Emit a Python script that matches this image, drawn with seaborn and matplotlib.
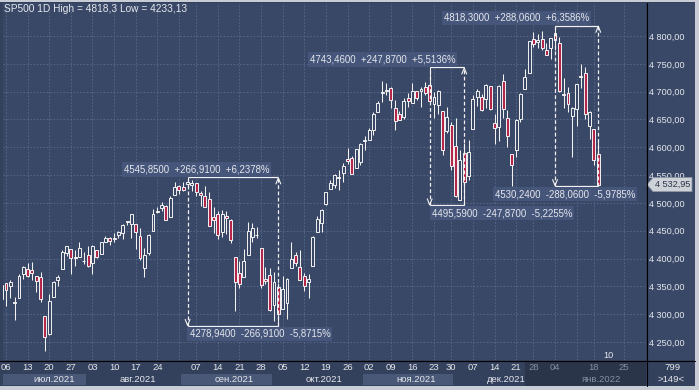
import numpy as np
import pandas as pd
import matplotlib
matplotlib.use("Agg")
import matplotlib.pyplot as plt
import seaborn as sns
from matplotlib.lines import Line2D
from matplotlib.patches import Polygon, Rectangle
from matplotlib.transforms import IdentityTransform

W, H = 699, 390

# trading days (NYSE holidays skipped)
holidays = ["2021-07-05", "2021-09-06", "2021-11-25", "2021-12-24", "2022-01-17"]
dates = pd.bdate_range("2021-07-02", "2022-01-19", freq="C", holidays=holidays)

opens = [
    4326.60, 4356.46, 4351.01, 4321.07, 4329.38, 4372.41, 4381.07, 4380.11, 4369.02, 4367.43,
    4296.40, 4265.11, 4331.13, 4361.27, 4381.20, 4409.58, 4416.38, 4402.95, 4403.59, 4395.12,
    4406.86, 4392.74, 4415.95, 4408.86, 4429.07, 4437.77, 4435.79, 4442.18, 4446.08, 4464.84,
    4461.65, 4462.12, 4440.94, 4382.44, 4410.56, 4450.29, 4484.40, 4490.45, 4493.75, 4474.10,
    4513.76, 4529.75, 4528.80, 4534.48, 4532.42, 4535.38, 4518.09, 4513.02, 4506.92, 4474.81,
    4479.33, 4447.49, 4477.09, 4469.74, 4402.95, 4374.45, 4367.43, 4406.75, 4438.04, 4442.12,
    4419.54, 4362.41, 4370.67, 4317.16, 4348.84, 4309.87, 4319.57, 4383.73, 4406.51, 4385.44,
    4368.31, 4358.01, 4386.75, 4447.69, 4463.72, 4497.34, 4524.42, 4532.24, 4546.12, 4553.69,
    4578.69, 4580.22, 4562.84, 4572.87, 4610.62, 4613.34, 4630.65, 4662.93, 4699.26, 4701.48,
    4707.25, 4670.26, 4659.39, 4655.24, 4689.30, 4679.42, 4701.50, 4700.72, 4708.44, 4712.00,
    4678.48, 4675.78, 4664.63, 4628.75, 4640.25, 4602.82, 4504.73, 4589.49, 4548.37, 4631.97,
    4690.86, 4691.00, 4687.64, 4710.30, 4642.99, 4636.46, 4719.13, 4652.50, 4587.90, 4594.96,
    4650.36, 4703.96, 4733.99, 4795.49, 4788.64, 4794.23, 4775.21, 4778.14, 4804.51, 4787.99,
    4693.39, 4697.66, 4655.34, 4669.14, 4728.59, 4733.56, 4637.99, 4632.24, 4588.03,
]
highs = [
    4355.43, 4356.46, 4361.88, 4330.88, 4371.60, 4386.68, 4392.37, 4393.68, 4369.02, 4375.09,
    4296.40, 4336.84, 4359.70, 4369.87, 4415.18, 4422.73, 4416.38, 4415.47, 4429.97, 4412.25,
    4422.18, 4423.79, 4416.17, 4429.76, 4440.82, 4439.39, 4445.21, 4449.44, 4461.77, 4468.37,
    4480.26, 4462.12, 4454.32, 4418.61, 4444.35, 4489.88, 4492.81, 4501.71, 4495.90, 4513.33,
    4537.36, 4531.39, 4537.11, 4545.85, 4541.45, 4535.38, 4521.79, 4529.90, 4520.47, 4492.99,
    4485.68, 4486.87, 4485.87, 4471.52, 4402.95, 4394.87, 4416.75, 4465.40, 4463.12, 4457.30,
    4419.54, 4385.57, 4382.55, 4375.19, 4355.51, 4369.23, 4365.57, 4429.97, 4412.02, 4415.88,
    4374.89, 4372.87, 4439.73, 4475.82, 4488.75, 4520.40, 4540.87, 4551.44, 4559.67, 4572.62,
    4598.53, 4584.57, 4597.55, 4608.08, 4620.34, 4635.15, 4663.46, 4683.00, 4718.50, 4714.92,
    4708.53, 4684.85, 4664.55, 4688.47, 4697.42, 4714.95, 4701.50, 4708.80, 4717.75, 4743.46,
    4699.39, 4702.87, 4664.63, 4672.95, 4646.02, 4652.94, 4595.46, 4608.03, 4612.60, 4694.04,
    4705.06, 4695.26, 4713.57, 4710.30, 4660.47, 4712.60, 4731.99, 4666.70, 4587.90, 4651.14,
    4697.67, 4740.74, 4791.49, 4807.02, 4804.06, 4808.93, 4786.83, 4796.64, 4818.30, 4797.70,
    4725.01, 4707.95, 4673.02, 4714.13, 4748.83, 4744.13, 4665.13, 4632.24, 4611.55,
]
lows = [
    4326.60, 4314.37, 4329.79, 4289.37, 4329.38, 4364.03, 4366.92, 4362.36, 4340.70, 4322.53,
    4233.13, 4262.05, 4331.13, 4350.06, 4381.20, 4405.45, 4372.51, 4387.01, 4403.59, 4389.65,
    4384.81, 4373.00, 4400.23, 4408.86, 4429.07, 4424.74, 4430.03, 4436.42, 4435.96, 4460.82,
    4437.66, 4417.83, 4397.59, 4367.73, 4406.80, 4450.29, 4482.28, 4485.66, 4468.99, 4474.10,
    4513.76, 4515.80, 4522.02, 4524.66, 4521.30, 4513.00, 4493.95, 4492.07, 4457.66, 4445.70,
    4435.46, 4438.37, 4443.80, 4427.76, 4305.91, 4347.96, 4367.43, 4406.75, 4430.27, 4436.19,
    4346.33, 4355.08, 4306.24, 4288.52, 4278.94, 4309.87, 4290.49, 4383.73, 4386.22, 4360.59,
    4342.09, 4329.92, 4386.75, 4447.69, 4447.47, 4496.41, 4524.40, 4526.89, 4524.00, 4537.36,
    4569.17, 4551.66, 4562.84, 4567.59, 4595.06, 4613.34, 4621.19, 4662.59, 4681.32, 4694.39,
    4670.87, 4630.86, 4648.31, 4650.77, 4672.86, 4679.42, 4684.41, 4672.78, 4694.22, 4682.17,
    4652.66, 4659.89, 4585.43, 4625.26, 4560.00, 4510.27, 4504.73, 4495.59, 4540.51, 4631.97,
    4674.52, 4665.98, 4670.24, 4667.60, 4606.52, 4611.22, 4651.89, 4600.22, 4531.10, 4583.16,
    4645.53, 4703.96, 4733.99, 4780.04, 4778.08, 4775.33, 4765.75, 4758.17, 4774.27, 4699.44,
    4671.26, 4662.74, 4582.24, 4638.27, 4706.71, 4650.29, 4614.75, 4568.70, 4530.24,
]
closes = [
    4352.34, 4343.54, 4358.13, 4320.82, 4369.55, 4384.63, 4369.21, 4374.30, 4360.03, 4327.16,
    4258.49, 4323.06, 4358.69, 4367.48, 4411.79, 4422.30, 4401.46, 4400.64, 4419.15, 4395.26,
    4387.16, 4423.15, 4402.66, 4429.10, 4436.52, 4432.35, 4436.75, 4447.70, 4460.83, 4468.00,
    4479.71, 4448.08, 4400.27, 4405.80, 4441.67, 4479.53, 4486.23, 4496.19, 4470.00, 4509.37,
    4528.79, 4522.68, 4524.09, 4536.95, 4535.43, 4520.03, 4514.07, 4493.28, 4458.58, 4468.73,
    4443.05, 4480.70, 4473.75, 4432.99, 4357.73, 4354.19, 4395.64, 4448.98, 4455.48, 4443.11,
    4352.63, 4359.46, 4307.54, 4357.04, 4300.46, 4345.72, 4363.55, 4399.76, 4391.34, 4361.19,
    4350.65, 4363.80, 4438.26, 4471.37, 4486.46, 4519.63, 4536.19, 4549.78, 4544.90, 4566.48,
    4574.79, 4551.68, 4596.42, 4605.38, 4613.67, 4630.65, 4660.57, 4680.06, 4697.53, 4701.70,
    4685.25, 4646.71, 4649.27, 4682.85, 4682.80, 4700.90, 4688.67, 4704.54, 4697.96, 4682.94,
    4690.70, 4701.46, 4594.62, 4655.27, 4567.00, 4513.04, 4577.10, 4538.43, 4591.67, 4686.75,
    4701.21, 4667.45, 4712.02, 4668.97, 4634.09, 4709.85, 4668.67, 4620.64, 4568.02, 4649.23,
    4696.56, 4725.79, 4791.19, 4786.35, 4793.06, 4778.73, 4766.18, 4796.56, 4793.54, 4700.58,
    4696.05, 4677.03, 4670.29, 4713.07, 4726.35, 4659.03, 4662.85, 4577.11, 4532.95,
]

# measured ranges (start, end)
ranges = [("2021-09-02", "2021-10-04"), ("2021-11-22", "2021-12-03"), ("2022-01-04", "2022-01-19")]

day_ticks = ["2021-07-06", "2021-07-13", "2021-07-20", "2021-07-27", "2021-08-03", "2021-08-10",
             "2021-08-17", "2021-08-24", "2021-09-07", "2021-09-14", "2021-09-21", "2021-09-28",
             "2021-10-05", "2021-10-12", "2021-10-19", "2021-10-26", "2021-11-02", "2021-11-09",
             "2021-11-16", "2021-11-23", "2021-11-30", "2021-12-07", "2021-12-14", "2021-12-21",
             "2021-12-28", "2022-01-04", "2022-01-18", "2022-01-25"]
month_labels = ["июл.2021", "авг.2021", "сен.2021", "окт.2021", "ноя.2021", "дек.2021", "янв.2022"]
price_ticks = [4250, 4300, 4350, 4400, 4450, 4500, 4550, 4600, 4650, 4700, 4750, 4800]
shade_from = "2021-12-23"   # start of the greyed part of the date strip

BG = "#3a4867"
PANEL = "#34415d"
DARK = "#2b3549"
GRID = "#5a6a8c"
RED = "#b4274a"
WHITE = "#f2f2f2"
TXT = "#e4e7ec"
DIM = "#858ea2"
LBL_BG = "#46557a"

# pixel calibration of the original screen
X0, DX = 1.68, 4.323
Y36, PPY = 4800, 0.5564


def pos(d):
    d = pd.Timestamp(d)
    if d <= dates[-1]:
        return int(dates.get_loc(d))
    return len(dates) - 1 + (d - dates[-1]).days


def fmt_price(v):
    return f"{v:,.2f}".replace(",", " ").replace(".", ",")


sns.set_theme(style="dark")
plt.rcParams["font.family"] = ["Liberation Sans", "DejaVu Sans"]

fig = plt.figure(figsize=(W / 100, H / 100), dpi=100, facecolor="#c8ccd4")


def px_axes(x0, y0, x1, y1):
    a = fig.add_axes([x0 / W, 1 - y1 / H, (x1 - x0) / W, (y1 - y0) / H])
    a.set_xticks([])
    a.set_yticks([])
    for s in a.spines.values():
        s.set_visible(False)
    return a


frame = px_axes(0, 2, 695, 386)
frame.set_facecolor(PANEL)
right = px_axes(647, 3, 695, 360)
right.set_facecolor(BG)

ax = px_axes(2.5, 3, 646, 360)
ax.set_facecolor(BG)
ax.set_xlim((2.5 - X0) / DX, (646 - X0) / DX)
ax.set_ylim(Y36 - (360 - 36) / PPY, Y36 + (36 - 3) / PPY)

idx = np.arange(len(dates))
o, h, l, c = map(np.asarray, (opens, highs, lows, closes))
up = c >= o

# grid
ax.set_yticks(price_ticks)
ax.set_yticklabels([fmt_price(v) for v in price_ticks])
ax.yaxis.tick_right()
ax.tick_params(axis="y", length=0, pad=2.5, labelsize=6.6, labelcolor=TXT)
ax.grid(True, axis="y", color=GRID, ls=(0, (2, 2)), lw=0.6)
week_pos = [pos(d) for d in pd.date_range("2021-07-06", "2022-01-25", freq="7D")]
ax.vlines(week_pos, *ax.get_ylim(), color=GRID, ls=(0, (2, 2)), lw=0.6, zorder=0.5)

# candles
ax.vlines(idx, l, h, color=WHITE, lw=0.75, zorder=2)
body = np.maximum(np.abs(c - o), 0.9)
ax.bar(idx, body, bottom=np.minimum(o, c), width=0.68,
       color=np.where(up, BG, RED), edgecolor=WHITE, linewidth=0.7, zorder=3)


def chevron(x, y, down):
    X, Y = ax.transData.transform((x, y))
    s = 1 if down else -1
    ax.add_line(Line2D([X - 2.4, X, X + 2.4], [Y + s * 6.5, Y + s * 0.5, Y + s * 6.5],
                       transform=IdentityTransform(), color=WHITE, lw=0.8, zorder=6))


label_kw = dict(textcoords="offset pixels", fontsize=6.9, color=TXT, va="center", zorder=7,
                bbox=dict(boxstyle="square,pad=0.22", fc=LBL_BG, ec="none"))
for k, (d0, d1) in enumerate(ranges):
    i0, i1 = pos(d0), pos(d1)
    hi = h[i0:i1 + 1].max()
    lo = l[i0:i1 + 1].min()
    diff = hi - lo
    ax.hlines([hi, lo], i0, i1, color=WHITE, lw=0.9, zorder=6)
    ax.vlines([i0, i1], lo, hi, color=WHITE, lw=0.9, ls=(0, (3, 2)), zorder=6)
    chevron(i0, lo, True)
    chevron(i1, hi, False)
    top = f"{hi:.4f}  +{diff:.4f}  +{diff / lo * 100:.4f}%".replace(".", ",")
    bot = f"{lo:.4f}  -{diff:.4f}  -{diff / hi * 100:.4f}%".replace(".", ",")
    ax.annotate(top, xy=(i1, hi), xytext=(-9, 8), ha="right", **label_kw)
    if k == 2:
        ax.annotate(bot, xy=(i1, lo), xytext=(37, -8), ha="right", **label_kw)
    else:
        ax.annotate(bot, xy=(i0, lo), xytext=(2, -8), ha="left", **label_kw)

fig.text(4 / W, 1 - 9 / H,
         f"SP500 1D High = {h.max():g} Low = {l.min():g}".replace(".", ","),
         fontsize=7.3, color=TXT, va="center", ha="left")
fig.text(608 / W, 1 - 356 / H, "10", fontsize=6.6, color=TXT, va="center", ha="center")

# last price tag
last = c[-1]
ly = 36 + (Y36 - last) * PPY
tag = [(647, ly), (653, ly - 7), (692, ly - 7), (692, ly + 7), (653, ly + 7)]
fig.add_artist(Polygon([(x / W, 1 - y / H) for x, y in tag], closed=True,
                       fc="#cdd1d8", ec="#8d95a3", lw=0.6, transform=fig.transFigure))
fig.text(655 / W, 1 - ly / H, fmt_price(last), fontsize=6.6, color="#2c3446",
         va="center", ha="left")

# date axis strip
xax = px_axes(2.5, 361, 646, 386)
xax.set_facecolor(PANEL)
xax.set_xlim(ax.get_xlim())
xax.set_ylim(0, 2)
month_starts = [pos(g.index[0]) for _, g in pd.Series(idx, index=dates).groupby(dates.to_period("M"))]
month_edges = [m - 0.5 for m in month_starts] + [ax.get_xlim()[1]]
for k, lab in enumerate(month_labels):
    if k % 2 == 0:
        xax.add_patch(Rectangle((month_edges[k], 0.08), month_edges[k + 1] - month_edges[k], 0.9,
                                fc="#4a5878", ec="none"))
    xax.text(month_edges[k] + 7.8, 0.52, lab, fontsize=6.8, color=TXT if k < 6 else DIM,
             va="center", ha="left", zorder=3)
s0 = pos(shade_from)
xax.add_patch(Rectangle((s0, 0), ax.get_xlim()[1] - s0, 2, fc=DARK, ec="none", zorder=2))
for d in day_ticks:
    col = TXT if pos(d) < s0 else DIM
    xax.text(pos(d), 1.5, pd.Timestamp(d).strftime("%d"), fontsize=6.8, color=col,
             va="center", ha="center", zorder=3)

fig.text(673 / W, 1 - 367 / H, "799", fontsize=6.8, color=TXT, va="center", ha="center")
fig.text(671 / W, 1 - 380 / H, ">149<", fontsize=6.8, color=TXT, va="center", ha="center")

fig.add_artist(Line2D([646.5 / W] * 2, [1 - 3 / H, 1 - 386 / H], color="black", lw=0.8))
fig.add_artist(Line2D([0, 695 / W], [1 - 360.5 / H] * 2, color="black", lw=0.8))

fig.savefig("out.png", dpi=100, facecolor=fig.get_facecolor())
